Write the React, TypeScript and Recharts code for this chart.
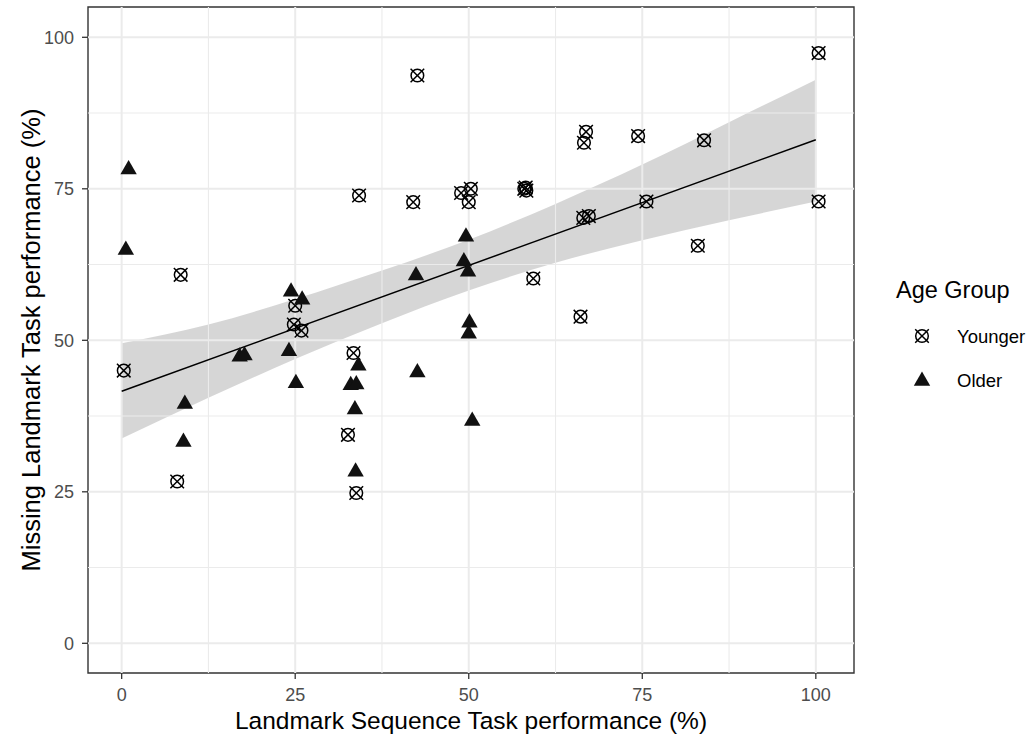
import React from "react";
import {
  ComposedChart,
  XAxis,
  YAxis,
  Scatter,
  Line,
  Area,
  ReferenceLine,
  ReferenceArea,
} from "recharts";

// ---- data ----
const youngerX = [0.3, 8.0, 8.5, 25.0, 24.8, 25.9, 33.4, 32.6, 33.8, 34.2, 42.0, 42.6, 48.9, 50.3, 50.0, 58.0, 58.3, 58.2, 59.3, 66.1, 66.5, 67.3, 66.6, 66.9, 74.4, 75.6, 83.0, 83.9, 100.4, 100.4];
const youngerY = [45.0, 26.7, 60.8, 55.7, 52.6, 51.6, 47.9, 34.4, 24.8, 73.9, 72.8, 93.7, 74.3, 75.0, 72.8, 75.0, 74.7, 75.2, 60.2, 53.9, 70.2, 70.5, 82.6, 84.4, 83.7, 72.9, 65.6, 83.0, 97.4, 72.9];

const olderX = [1.0, 0.6, 9.1, 8.9, 17.0, 17.7, 24.1, 24.4, 26.0, 25.1, 34.1, 33.0, 33.8, 33.6, 33.7, 42.6, 42.4, 49.6, 49.3, 49.9, 50.1, 50.0, 50.5];
const olderY = [78.2, 64.9, 39.5, 33.2, 47.3, 47.5, 48.2, 58.0, 56.7, 42.9, 45.8, 42.6, 42.7, 38.6, 28.3, 44.7, 60.7, 67.1, 63.0, 61.3, 52.9, 51.1, 36.7];

const bandX = [0, 12.5, 25, 37.5, 50, 62.5, 75, 87.5, 100];
const bandLower = [33.8, 40.5, 46.9, 52.8, 58.2, 62.8, 66.5, 69.8, 72.9];
const bandUpper = [49.5, 52.6, 56.8, 61.5, 66.6, 72.5, 79.0, 86.0, 93.0];

const fitX = [0, 100];
const fitY = [41.6, 83.1];

const xTicks = [0, 25, 50, 75, 100];
const yTicks = [0, 25, 50, 75, 100];
const xMinor = [12.5, 37.5, 62.5, 87.5];
const yMinor = [12.5, 37.5, 62.5, 87.5];

const seriesNames = ["Younger", "Older"];
const legendTitle = "Age Group";
const xTitle = "Landmark Sequence Task performance (%)";
const yTitle = "Missing Landmark Task performance (%)";

const X_DOMAIN: [number, number] = [-4.85, 105.5];
const Y_DOMAIN: [number, number] = [-4.9, 105.0];

const youngerData = youngerX.map((x, i) => ({ x, y: youngerY[i] }));
const olderData = olderX.map((x, i) => ({ x, y: olderY[i] }));
const bandData = bandX.map((x, i) => ({ x, lo: bandLower[i], hi: bandUpper[i] }));
const fitData = fitX.map((x, i) => ({ x, y: fitY[i] }));

const FONT = "'Liberation Sans', Arial, Helvetica, sans-serif";
const GRID = "#EBEBEB";
const DARK = "#333333";
const TICKTXT = "#4D4D4D";

const YoungerShape = (props: any) => {
  const { cx, cy } = props;
  if (cx == null || cy == null) return null;
  const r = 6.3;
  const h = 6.8;
  return (
    <g stroke="#000" strokeWidth={1.5} fill="none">
      <circle cx={cx} cy={cy} r={r} />
      <line x1={cx - h} y1={cy - h} x2={cx + h} y2={cy + h} />
      <line x1={cx - h} y1={cy + h} x2={cx + h} y2={cy - h} />
    </g>
  );
};

const triPoints = (cx: number, cy: number) =>
  `${cx},${cy - 9.5} ${cx + 8.2},${cy + 4.75} ${cx - 8.2},${cy + 4.75}`;

const OlderShape = (props: any) => {
  const { cx, cy } = props;
  if (cx == null || cy == null) return null;
  return <polygon points={triPoints(cx, cy)} fill="#111" stroke="none" />;
};

const XTitle = (props: any) => {
  const vb = props.viewBox || {};
  return (
    <text
      x={vb.x + vb.width / 2}
      y={vb.y + 56}
      textAnchor="middle"
      fontFamily={FONT}
      fontSize={24.5}
      fill="#000"
    >
      {xTitle}
    </text>
  );
};

const YTitle = (props: any) => {
  const vb = props.viewBox || {};
  const cx = 40;
  const cy = vb.y + vb.height / 2;
  return (
    <text
      x={cx}
      y={cy}
      transform={`rotate(-90, ${cx}, ${cy})`}
      textAnchor="middle"
      fontFamily={FONT}
      fontSize={25.5}
      fill="#000"
    >
      {yTitle}
    </text>
  );
};

const LegendBox = () => (
  <svg
    width={160}
    height={140}
    viewBox="875 260 160 140"
    style={{ position: "absolute", left: 875, top: 260 }}
  >
    <text x={896} y={298} fontFamily={FONT} fontSize={23.5} fill="#000">
      {legendTitle}
    </text>
    <YoungerShape cx={922} cy={336} />
    <text x={957} y={342.5} fontFamily={FONT} fontSize={18.5} fill="#000">
      {seriesNames[0]}
    </text>
    <polygon points={triPoints(922, 381)} fill="#111" />
    <text x={957} y={387} fontFamily={FONT} fontSize={18.5} fill="#000">
      {seriesNames[1]}
    </text>
  </svg>
);

export default function App() {
  return (
    <div
      style={{
        position: "absolute",
        left: 0,
        top: 0,
        width: 1035,
        height: 742,
        background: "#fff",
      }}
    >
      <ComposedChart
        width={1035}
        height={742}
        margin={{ top: 7, right: 181, bottom: 19, left: 28 }}
        style={{ fontFamily: FONT }}
      >
        <XAxis
          type="number"
          dataKey="x"
          domain={X_DOMAIN}
          ticks={xTicks}
          allowDataOverflow
          height={50}
          axisLine={false}
          tickLine={{ stroke: DARK, strokeWidth: 1.3 }}
          tickSize={6}
          tickMargin={9}
          tick={{ fill: TICKTXT, fontSize: 18, fontFamily: FONT }}
          label={<XTitle />}
        />
        <YAxis
          type="number"
          domain={Y_DOMAIN}
          ticks={yTicks}
          allowDataOverflow
          width={60}
          axisLine={false}
          tickLine={{ stroke: DARK, strokeWidth: 1.3 }}
          tickSize={6}
          tickMargin={8}
          tick={{ fill: TICKTXT, fontSize: 18, fontFamily: FONT }}
          label={<YTitle />}
        />
        {xMinor.map((v) => (
          <ReferenceLine key={"xm" + v} x={v} stroke={GRID} strokeWidth={1.1} />
        ))}
        {yMinor.map((v) => (
          <ReferenceLine key={"ym" + v} y={v} stroke={GRID} strokeWidth={1.1} />
        ))}
        {xTicks.map((v) => (
          <ReferenceLine key={"xM" + v} x={v} stroke={GRID} strokeWidth={2} />
        ))}
        {yTicks.map((v) => (
          <ReferenceLine key={"yM" + v} y={v} stroke={GRID} strokeWidth={2} />
        ))}
        <Area
          data={bandData}
          dataKey={(d: any) => [d.lo, d.hi]}
          type="monotone"
          fill="#999999"
          fillOpacity={0.4}
          stroke="none"
          isAnimationActive={false}
          activeDot={false}
          legendType="none"
        />
        <Line
          data={fitData}
          dataKey="y"
          type="linear"
          stroke="#000"
          strokeWidth={1.5}
          dot={false}
          activeDot={false}
          isAnimationActive={false}
          legendType="none"
        />
        <Scatter
          name={seriesNames[0]}
          data={youngerData}
          dataKey="y"
          shape={YoungerShape}
          isAnimationActive={false}
        />
        <Scatter
          name={seriesNames[1]}
          data={olderData}
          dataKey="y"
          shape={OlderShape}
          isAnimationActive={false}
        />
        <ReferenceArea
          x1={X_DOMAIN[0]}
          x2={X_DOMAIN[1]}
          y1={Y_DOMAIN[0]}
          y2={Y_DOMAIN[1]}
          fill="none"
          fillOpacity={0}
          stroke={DARK}
          strokeWidth={1.4}
          ifOverflow="visible"
        />
      </ComposedChart>
      <LegendBox />
    </div>
  );
}
